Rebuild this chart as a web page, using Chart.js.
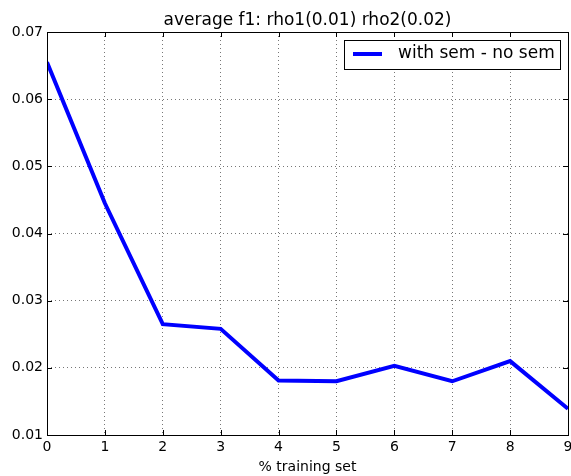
<!DOCTYPE html>
<html>
<head>
<meta charset="utf-8">
<script src="https://cdn.jsdelivr.net/npm/chart.js@4"></script>
<style>
  html, body { margin: 0; padding: 0; background: #fff; }
  #wrap { width: 571px; height: 476px; }
</style>
</head>
<body>
<div id="wrap"><canvas id="chartF1" width="571" height="476"></canvas></div>
<script>
const trainingSet = [0, 1, 2, 3, 4, 5, 6, 7, 8, 9];
const semDiff = [0.0655, 0.0445, 0.0265, 0.0258, 0.0181, 0.0180, 0.0203, 0.0180, 0.0210, 0.0139];
const yTicks = [0.01, 0.02, 0.03, 0.04, 0.05, 0.06, 0.07];

const FONT = "'DejaVu Sans', sans-serif";

// matplotlib style inward ticks, frame and legend box
const mplDecor = {
  id: "mplDecor",
  afterDraw(chart) {
    const { ctx, chartArea: a, scales } = chart;
    ctx.save();
    ctx.strokeStyle = "#000";
    ctx.lineWidth = 1;
    ctx.beginPath();
    scales.x.ticks.forEach(t => {
      const px = Math.round(scales.x.getPixelForValue(t.value)) + 0.5;
      ctx.moveTo(px, a.bottom); ctx.lineTo(px, a.bottom - 5);
      ctx.moveTo(px, a.top); ctx.lineTo(px, a.top + 5);
    });
    scales.y.ticks.forEach(t => {
      const py = Math.round(scales.y.getPixelForValue(t.value)) + 0.5;
      ctx.moveTo(a.left, py); ctx.lineTo(a.left + 5, py);
      ctx.moveTo(a.right, py); ctx.lineTo(a.right - 5, py);
    });
    ctx.stroke();
    ctx.strokeRect(Math.round(a.left) + 0.5, Math.round(a.top) + 0.5,
      Math.round(a.right - a.left), Math.round(a.bottom - a.top));

    // legend
    const ds = chart.data.datasets[0];
    const bx = 344.5, by = 40.5, bw = 216, bh = 29;
    ctx.fillStyle = "#fff";
    ctx.fillRect(bx, by, bw, bh);
    ctx.strokeRect(bx, by, bw, bh);
    ctx.strokeStyle = ds.borderColor;
    ctx.lineWidth = 4;
    ctx.beginPath();
    ctx.moveTo(353, 54); ctx.lineTo(382, 54);
    ctx.stroke();
    ctx.fillStyle = "#000";
    ctx.font = "17px " + FONT;
    ctx.textBaseline = "middle";
    ctx.fillText(ds.label, 398, 54);
    ctx.restore();
  }
};

new Chart(document.getElementById("chartF1"), {
  type: "line",
  data: {
    datasets: [{
      label: "with sem - no sem",
      data: trainingSet.map((x, i) => ({ x: x, y: semDiff[i] })),
      borderColor: "#0000ff",
      borderWidth: 4,
      pointRadius: 0,
      tension: 0,
      fill: false
    }]
  },
  options: {
    responsive: false,
    animation: false,
    layout: { padding: { left: 0, right: 3, top: 0, bottom: 0 } },
    plugins: {
      legend: { display: false },
      tooltip: { enabled: false },
      title: {
        display: true,
        text: "average f1: rho1(0.01) rho2(0.02)",
        fullSize: false,
        color: "#000",
        font: { family: FONT, size: 17, weight: "normal" },
        padding: { top: 10, bottom: 1.6 }
      }
    },
    scales: {
      x: {
        type: "linear",
        min: 0,
        max: 9,
        afterFit(scale) { scale.height = 41; scale.paddingLeft = 0; scale.paddingRight = 0; },
        ticks: { stepSize: 1, color: "#000", padding: 4, maxRotation: 0,
          font: { family: FONT, size: 14 } },
        grid: { color: "#777", drawTicks: false, lineWidth: 1 },
        border: { display: false, dash: [1, 3] },
        title: {
          display: true,
          text: "% training set",
          color: "#000",
          font: { family: FONT, size: 14 },
          padding: { top: 3, bottom: 0 }
        }
      },
      y: {
        min: 0.01,
        max: 0.07,
        afterFit(scale) { scale.width = 47; },
        afterBuildTicks(scale) { scale.ticks = yTicks.map(v => ({ value: v })); },
        ticks: { color: "#000", padding: 4, font: { family: FONT, size: 14 },
          callback: v => v.toFixed(2) },
        grid: { color: "#777", drawTicks: false, lineWidth: 1 },
        border: { display: false, dash: [1, 3] }
      }
    }
  },
  plugins: [mplDecor]
});
</script>
</body>
</html>
